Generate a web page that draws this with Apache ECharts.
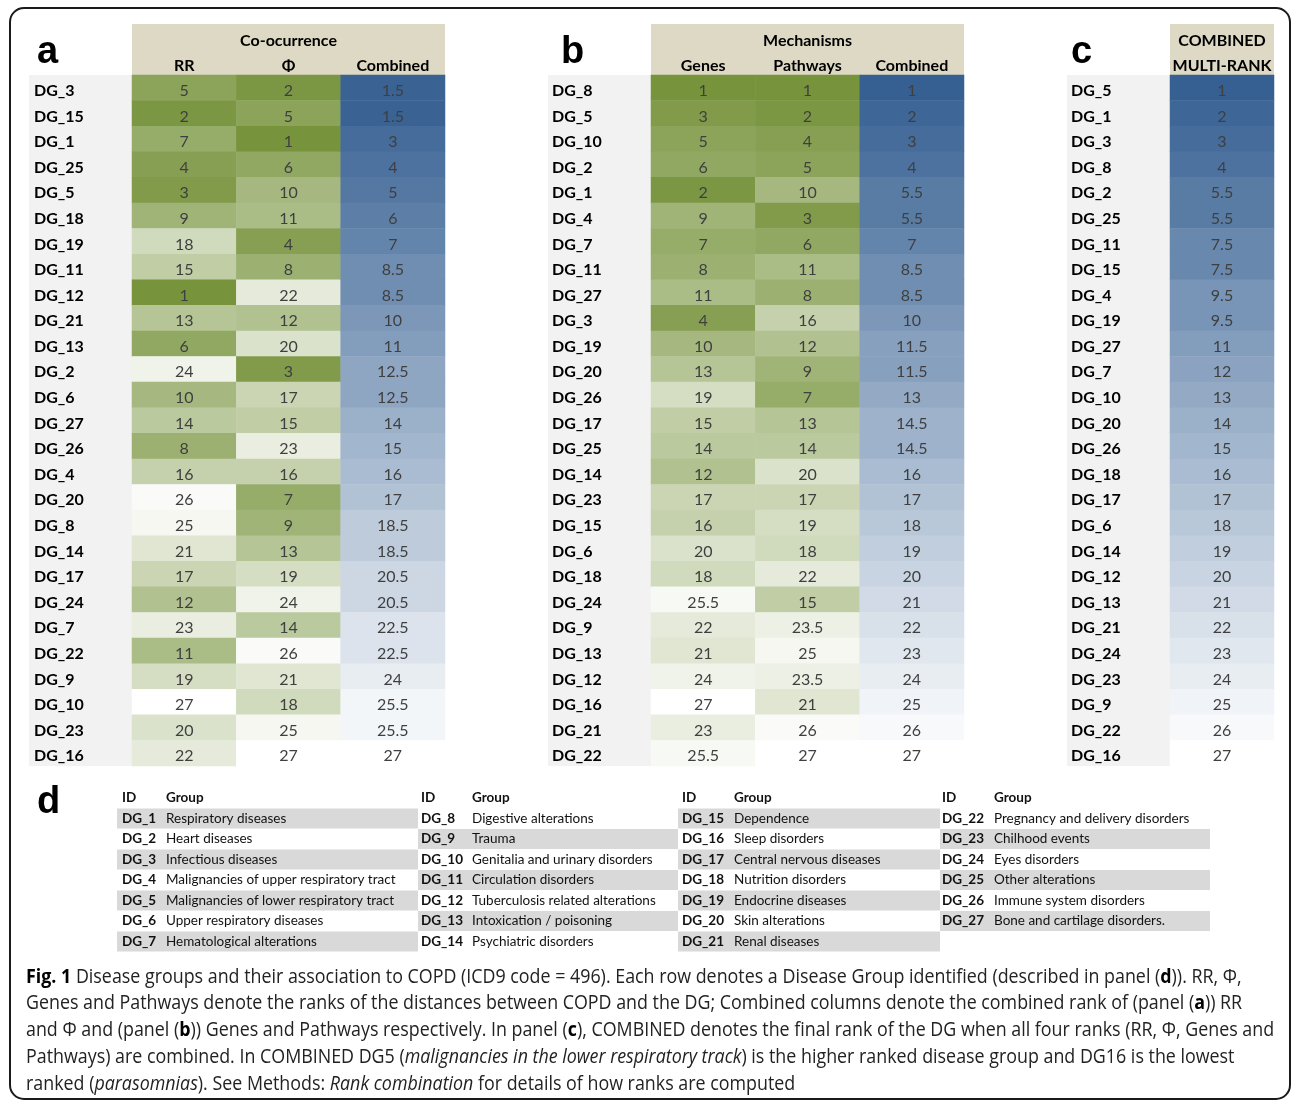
<!DOCTYPE html>
<html>
<head>
<meta charset="utf-8">
<script src="https://cdn.jsdelivr.net/npm/echarts@6/dist/echarts.min.js"></script>
<style>
html,body{margin:0;padding:0;background:#fff}
#chart{width:1292px;height:1101px}
</style>
</head>
<body>
<div id="chart"></div>
<script>
// panel a: co-occurrence ranks
const rowsA = ['DG_3','DG_15','DG_1','DG_25','DG_5','DG_18','DG_19','DG_11','DG_12','DG_21','DG_13','DG_2','DG_6','DG_27','DG_26','DG_4','DG_20','DG_8','DG_14','DG_17','DG_24','DG_7','DG_22','DG_9','DG_10','DG_23','DG_16'];
const rrA = [5,2,7,4,3,9,18,15,1,13,6,24,10,14,8,16,26,25,21,17,12,23,11,19,27,20,22];
const phiA = [2,5,1,6,10,11,4,8,22,12,20,3,17,15,23,16,7,9,13,19,24,14,26,21,18,25,27];
const combA = [1.5,1.5,3,4,5,6,7,8.5,8.5,10,11,12.5,12.5,14,15,16,17,18.5,18.5,20.5,20.5,22.5,22.5,24,25.5,25.5,27];

// panel b: mechanisms ranks
const rowsB = ['DG_8','DG_5','DG_10','DG_2','DG_1','DG_4','DG_7','DG_11','DG_27','DG_3','DG_19','DG_20','DG_26','DG_17','DG_25','DG_14','DG_23','DG_15','DG_6','DG_18','DG_24','DG_9','DG_13','DG_12','DG_16','DG_21','DG_22'];
const genesB = [1,3,5,6,2,9,7,8,11,4,10,13,19,15,14,12,17,16,20,18,25.5,22,21,24,27,23,25.5];
const pathB = [1,2,4,5,10,3,6,11,8,16,12,9,7,13,14,20,17,19,18,22,15,23.5,25,23.5,21,26,27];
const combB = [1,2,3,4,5.5,5.5,7,8.5,8.5,10,11.5,11.5,13,14.5,14.5,16,17,18,19,20,21,22,23,24,25,26,27];

// panel c: combined multi-rank
const rowsC = ['DG_5','DG_1','DG_3','DG_8','DG_2','DG_25','DG_11','DG_15','DG_4','DG_19','DG_27','DG_7','DG_10','DG_20','DG_26','DG_18','DG_17','DG_6','DG_14','DG_12','DG_13','DG_21','DG_24','DG_23','DG_9','DG_22','DG_16'];
const multiC = [1,2,3,4,5.5,5.5,7.5,7.5,9.5,9.5,11,12,13,14,15,16,17,18,19,20,21,22,23,24,25,26,27];

// panel d: group names, DG_1 .. DG_27
const groupNames = ['Respiratory diseases','Heart diseases','Infectious diseases','Malignancies of upper respiratory tract','Malignancies of lower respiratory tract','Upper respiratory diseases','Hematological alterations',
  'Digestive alterations','Trauma','Genitalia and urinary disorders','Circulation disorders','Tuberculosis related alterations','Intoxication / poisoning','Psychiatric disorders',
  'Dependence','Sleep disorders','Central nervous diseases','Nutrition disorders','Endocrine diseases','Skin alterations','Renal diseases',
  'Pregnancy and delivery disorders','Chilhood events','Eyes disorders','Other alterations','Immune system disorders','Bone and cartilage disorders.'];

const GREEN = '#77933c', BLUE = '#366092', TAN = '#ddd9c4', LABEL_BG = '#f2f2f2';
const FONT = 'Lato, "Open Sans", sans-serif';
const CELL_TOP = 75, CELL_H = 691, HEAD_TOP = 24;

const panels = [
  {letter:'a', title:'Co-ocurrence', cols:['RR','\u03a6','Combined'], rows:rowsA, green:[rrA,phiA], blue:[combA], left:132, width:313, labelLeft:29, textLeft:34, letterX:37},
  {letter:'b', title:'Mechanisms', cols:['Genes','Pathways','Combined'], rows:rowsB, green:[genesB,pathB], blue:[combB], left:651, width:313, labelLeft:548, textLeft:552, letterX:561},
  {letter:'c', title:'COMBINED', cols:['MULTI-RANK'], rows:rowsC, green:[], blue:[multiC], left:1170, width:104, labelLeft:1067, textLeft:1071, letterX:1071}
];

function cells(cols, offset) {
  const out = [];
  cols.forEach((vals, c) => vals.forEach((v, r) => out.push([c + offset, r, v])));
  return out;
}

const grid = [], xAxis = [], yAxis = [], series = [], greenIdx = [], blueIdx = [], graphic = [];

const cellLabel = {show:true, color:'#3f3f3f', fontSize:16, fontFamily:FONT, offset:[0,3], formatter: p => p.value[2]};

panels.forEach((p, i) => {
  grid.push({left:p.left, top:CELL_TOP, width:p.width, height:CELL_H});
  xAxis.push({
    gridIndex:i, type:'category', position:'top', data:p.cols,
    axisLine:{show:false}, axisTick:{show:false},
    axisLabel:{color:'#000', fontWeight:'bold', fontSize:16, fontFamily:FONT, margin:9, verticalAlign:'middle', interval:0},
    name:p.title, nameLocation:'middle', nameGap:34,
    nameTextStyle:{color:'#000', fontWeight:'bold', fontSize:16, fontFamily:FONT, verticalAlign:'middle'}
  });
  yAxis.push({
    gridIndex:i, type:'category', data:p.rows, inverse:true,
    axisLine:{show:false}, axisTick:{show:false},
    axisLabel:{color:'#000', fontWeight:'bold', fontSize:16, fontFamily:FONT, align:'left', margin:p.left - p.textLeft, interval:0, verticalAlign:'top', lineHeight:6}
  });
  if (p.green.length) {
    greenIdx.push(series.length);
    series.push({type:'heatmap', xAxisIndex:i, yAxisIndex:i, data:cells(p.green, 0), label:cellLabel, emphasis:{disabled:true}});
  }
  blueIdx.push(series.length);
  series.push({type:'heatmap', xAxisIndex:i, yAxisIndex:i, data:cells(p.blue, p.green.length), label:cellLabel, emphasis:{disabled:true}});

  graphic.push({type:'rect', z:-10, shape:{x:p.left, y:HEAD_TOP, width:p.width, height:CELL_TOP - HEAD_TOP}, style:{fill:TAN}});
  graphic.push({type:'rect', z:-10, shape:{x:p.labelLeft, y:CELL_TOP, width:p.left - p.labelLeft, height:CELL_H}, style:{fill:LABEL_BG}});
  graphic.push({type:'text', x:p.letterX, y:53, style:{text:p.letter, font:'bold 38px "Liberation Sans", Arial, sans-serif', fill:'#000', verticalAlign:'middle'}});
});

// frame
graphic.push({type:'rect', z:-20, shape:{x:10, y:8, width:1280, height:1091, r:14}, style:{fill:'none', stroke:'#1a1a1a', lineWidth:2}});

// panel d table
graphic.push({type:'text', x:37, y:803, style:{text:'d', font:'bold 38px "Liberation Sans", Arial, sans-serif', fill:'#000', verticalAlign:'middle'}});
const blocks = [
  {from:1, to:7, idX:122, gX:166, x0:117, x1:418},
  {from:8, to:14, idX:421, gX:472, x0:418, x1:678},
  {from:15, to:21, idX:682, gX:734, x0:678, x1:940},
  {from:22, to:27, idX:942, gX:994, x0:940, x1:1210}
];
const T_HEAD = 798, T_STEP = 20.5;
const tFont = '13.5px ' + FONT, tBold = 'bold 13.5px ' + FONT;
blocks.forEach(b => {
  graphic.push({type:'text', x:b.idX, y:T_HEAD, style:{text:'ID', font:tBold, fill:'#111', verticalAlign:'middle'}});
  graphic.push({type:'text', x:b.gX, y:T_HEAD, style:{text:'Group', font:tBold, fill:'#111', verticalAlign:'middle'}});
  for (let n = b.from; n <= b.to; n++) {
    const y = T_HEAD + (n - b.from + 1) * T_STEP;
    if (n % 2 === 1) {
      graphic.push({type:'rect', z:-10, shape:{x:b.x0, y:y - 10, width:b.x1 - b.x0, height:20}, style:{fill:'#d9d9d9'}});
    }
    graphic.push({type:'text', x:b.idX, y:y, style:{text:'DG_' + n, font:tBold, fill:'#111', verticalAlign:'middle'}});
    graphic.push({type:'text', x:b.gX, y:y, style:{text:groupNames[n - 1], font:tFont, fill:'#111', verticalAlign:'middle'}});
  }
});

// caption (condensed by horizontal scaling of a regular face)
const capLines = [
  '{b|Fig. 1} Disease groups and their association to COPD (ICD9 code = 496). Each row denotes a Disease Group identified (described in panel ({b|d})). RR, \u03a6,',
  'Genes and Pathways denote the ranks of the distances between COPD and the DG; Combined columns denote the combined rank of (panel ({b|a})) RR',
  'and \u03a6 and (panel ({b|b})) Genes and Pathways respectively. In panel ({b|c}), COMBINED denotes the final rank of the DG when all four ranks (RR, \u03a6, Genes and',
  'Pathways) are combined. In COMBINED DG5 ({i|malignancies in the lower respiratory track}) is the higher ranked disease group and DG16 is the lowest',
  'ranked ({i|parasomnias}). See Methods: {i|Rank combination} for details of how ranks are computed'
];
const capFamily = '"Open Sans", sans-serif';
const CAP_SIZE = 20;
const ctx = document.createElement('canvas').getContext('2d');
ctx.font = CAP_SIZE + 'px ' + capFamily;
const plain1 = capLines[0].replace(/\{[bi]\|([^}]*)\}/g, '$1');
const capScale = 0.975 * 1244 / ctx.measureText(plain1).width;
capLines.forEach((t, k) => {
  graphic.push({type:'text', x:26, y:977 + k * 26.7, scaleX:capScale, style:{
    text:t, fontFamily:capFamily, fontSize:CAP_SIZE, fill:'#222', verticalAlign:'middle',
    rich:{
      b:{fontFamily:capFamily, fontSize:CAP_SIZE, fontWeight:'bold', fill:'#000'},
      i:{fontFamily:capFamily, fontSize:CAP_SIZE, fontStyle:'italic', fill:'#222'}
    }
  }});
});

const chart = echarts.init(document.getElementById('chart'));
chart.setOption({
  backgroundColor:'#fff',
  animation:false,
  grid:grid,
  xAxis:xAxis,
  yAxis:yAxis,
  visualMap:[
    {type:'continuous', show:false, min:1, max:27, dimension:2, seriesIndex:greenIdx, inRange:{color:[GREEN,'#ffffff']}},
    {type:'continuous', show:false, min:1, max:27, dimension:2, seriesIndex:blueIdx, inRange:{color:[BLUE,'#ffffff']}}
  ],
  series:series,
  graphic:graphic
});
</script>
</body>
</html>
